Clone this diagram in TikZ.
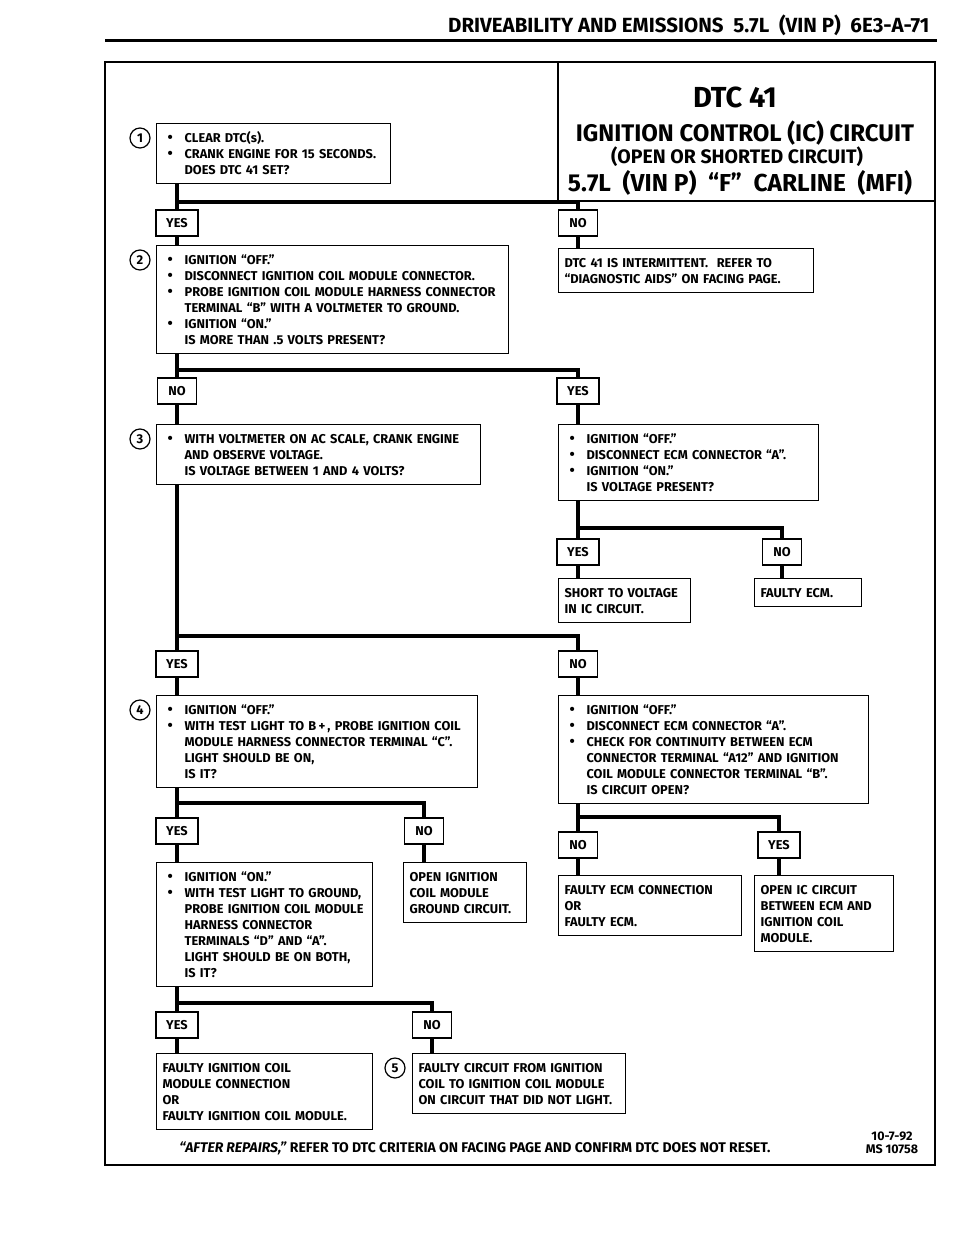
\documentclass[tikz,border=0pt]{standalone}
\usepackage{fontspec}
\setmainfont{Fira Sans}
\usetikzlibrary{calc,positioning}

\newcommand\dgb{\makebox[22pt][l]{\hspace{5pt}{\fontsize{15}{15}\selectfont\textbullet}}}
\newcommand\dgi{\hspace*{22pt}}
\newcommand\dgstrut{\rule[-2.8pt]{0pt}{16pt}}

\tikzset{
  dg frame/.style={draw=black, line width=2.4pt},
  dg rule/.style={draw=black, line width=3pt},
  dg box/.style={draw=black, line width=1.2pt, anchor=north west, align=left,
    inner xsep=6pt, inner ysep=6pt, font=\bfseries\fontsize{12.8}{16}\selectfont,
    execute at begin node=\dgstrut, execute at end node=\dgstrut},
  dg answer/.style={draw=black, line width=1.2pt, minimum height=26pt, minimum width=42pt,
    inner sep=0pt, font=\bfseries\fontsize{12.8}{14}\selectfont},
  dg answer no/.style={dg answer, minimum width=39pt},
  dg num/.style={circle, draw=black, line width=1.2pt, minimum size=20pt, inner sep=0pt,
    font=\bfseries\fontsize{12.8}{14}\selectfont},
  dg flow/.style={draw=black, line width=4pt},
  dg header/.style={font=\bfseries\fontsize{20.5}{22}\selectfont},
  dg title/.style={font=\bfseries\fontsize{#1}{#1}\selectfont},
  dg note/.style={font=\bfseries\fontsize{14}{15}\selectfont}
}

\begin{document}
\begin{tikzpicture}[x=1pt,y=-1pt]
  \useasboundingbox (0,0) rectangle (960,1250);
  % page head
  \node[dg header, anchor=base east] (head) at (933,32) {DRIVEABILITY AND EMISSIONS\ \ 5.7L\ \ (VIN P)\ \ 6E3-A-71};
  \draw[dg rule] (105,40) -- (937,40);

  % frame and title block
  \draw[dg frame] (105,62) rectangle (935,1165);
  \draw[dg frame] (558,62) |- (935,201);
  \node[dg title=29] (dtc) at (735,97) {DTC 41};
  \node[dg title=24] (ttl1) at (745,133) {IGNITION CONTROL (IC) CIRCUIT};
  \node[dg title=19.5] (ttl2) at (737,157) {(OPEN OR SHORTED CIRCUIT)};
  \node[dg title=24.5] (ttl3) at (740,183) {5.7L\ \ (VIN P)\ \ “F”\ \ CARLINE\ \ (MFI)};

  % step 1
  \node[dg box, text width=222pt] (q1) at (156,123) {\dgb CLEAR DTC(s).\\ \dgb CRANK ENGINE FOR 15 SECONDS.\\ \dgi DOES DTC 41 SET?};
  \node[dg num] (c1) at ($(q1.north west)+(-16,15)$) {1};
  \coordinate (j1) at (177,202);
  \node[dg answer] (yes1) at (177,223) {YES};
  \node[dg answer no] (no1) at (578,223) {NO};
  \draw[dg flow] (q1.south -| yes1) -- (yes1.north);
  \draw[dg flow] (j1) -| (no1.north);

  % step 2
  \node[dg box, text width=340pt] (q2) at (156,245) {\dgb IGNITION “OFF.”\\ \dgb DISCONNECT IGNITION COIL MODULE CONNECTOR.\\ \dgb PROBE IGNITION COIL MODULE HARNESS CONNECTOR\\ \dgi TERMINAL “B” WITH A VOLTMETER TO GROUND.\\ \dgb IGNITION “ON.”\\ \dgi IS MORE THAN .5 VOLTS PRESENT?};
  \node[dg num] (c2) at ($(q2.north west)+(-16,15)$) {2};
  \node[dg box, text width=243pt] (r2) at (558,248) {DTC 41 IS INTERMITTENT.\ \ REFER TO\\ “DIAGNOSTIC AIDS” ON FACING PAGE.};
  \draw[dg flow] (yes1.south) -- (yes1.south |- q2.north);
  \draw[dg flow] (no1.south) -- (no1.south |- r2.north);

  \coordinate (j2) at (177,370);
  \node[dg answer no] (no2) at (177,391) {NO};
  \node[dg answer] (yes2) at (578,391) {YES};
  \draw[dg flow] (q2.south -| no2) -- (no2.north);
  \draw[dg flow] (j2) -| (yes2.north);

  % step 3
  \node[dg box, text width=312pt] (q3) at (156,424) {\dgb WITH VOLTMETER ON AC SCALE, CRANK ENGINE\\ \dgi AND OBSERVE VOLTAGE.\\ \dgi IS VOLTAGE BETWEEN 1 AND 4 VOLTS?};
  \node[dg num] (c3) at ($(q3.north west)+(-16,15)$) {3};
  \node[dg box, text width=248pt] (r3) at (558,424) {\dgb IGNITION “OFF.”\\ \dgb DISCONNECT ECM CONNECTOR “A”.\\ \dgb IGNITION “ON.”\\ \dgi IS VOLTAGE PRESENT?};
  \draw[dg flow] (no2.south) -- (no2.south |- q3.north);
  \draw[dg flow] (yes2.south) -- (yes2.south |- r3.north);

  \coordinate (j3) at (578,528);
  \node[dg answer] (yes3) at (578,552) {YES};
  \node[dg answer no] (no3) at (782,552) {NO};
  \draw[dg flow] (r3.south -| yes3) -- (yes3.north);
  \draw[dg flow] (j3) -| (no3.north);
  \node[dg box, text width=120pt] (s3) at (558,578) {SHORT TO VOLTAGE\\ IN IC CIRCUIT.};
  \node[dg box, text width=95pt] (f3) at (754,578) {FAULTY ECM.};
  \draw[dg flow] (yes3.south) -- (yes3.south |- s3.north);
  \draw[dg flow] (no3.south) -- (no3.south |- f3.north);

  \coordinate (j4) at (177,636);
  \node[dg answer] (yes4) at (177,664) {YES};
  \node[dg answer no] (no4) at (578,664) {NO};
  \draw[dg flow] (q3.south -| yes4) -- (yes4.north);
  \draw[dg flow] (j4) -| (no4.north);

  % step 4
  \node[dg box, text width=309pt] (q4) at (156,695) {\dgb IGNITION “OFF.”\\ \dgb WITH TEST LIGHT TO B\,+\,, PROBE IGNITION COIL\\ \dgi MODULE HARNESS CONNECTOR TERMINAL “C”.\\ \dgi LIGHT SHOULD BE ON,\\ \dgi IS IT?};
  \node[dg num] (c4) at ($(q4.north west)+(-16,15)$) {4};
  \node[dg box, text width=298pt] (r4) at (558,695) {\dgb IGNITION “OFF.”\\ \dgb DISCONNECT ECM CONNECTOR “A”.\\ \dgb CHECK FOR CONTINUITY BETWEEN ECM\\ \dgi CONNECTOR TERMINAL “A12” AND IGNITION\\ \dgi COIL MODULE CONNECTOR TERMINAL “B”.\\ \dgi IS CIRCUIT OPEN?};
  \draw[dg flow] (yes4.south) -- (yes4.south |- q4.north);
  \draw[dg flow] (no4.south) -- (no4.south |- r4.north);

  \coordinate (j5) at (177,803);
  \node[dg answer] (yes5) at (177,831) {YES};
  \node[dg answer no] (no5) at (424,831) {NO};
  \draw[dg flow] (q4.south -| yes5) -- (yes5.north);
  \draw[dg flow] (j5) -| (no5.north);
  \node[dg box, text width=204pt] (q5) at (156,862) {\dgb IGNITION “ON.”\\ \dgb WITH TEST LIGHT TO GROUND,\\ \dgi PROBE IGNITION COIL MODULE\\ \dgi HARNESS CONNECTOR\\ \dgi TERMINALS “D” AND “A”.\\ \dgi LIGHT SHOULD BE ON BOTH,\\ \dgi IS IT?};
  \node[dg box, text width=111pt] (o5) at (403,862) {OPEN IGNITION\\ COIL MODULE\\ GROUND CIRCUIT.};
  \draw[dg flow] (yes5.south) -- (yes5.south |- q5.north);
  \draw[dg flow] (no5.south) -- (no5.south |- o5.north);

  \coordinate (j6) at (578,817);
  \node[dg answer no] (no6) at (578,845) {NO};
  \node[dg answer] (yes6) at (779,845) {YES};
  \draw[dg flow] (r4.south -| no6) -- (no6.north);
  \draw[dg flow] (j6) -| (yes6.north);
  \node[dg box, text width=171pt] (s6) at (558,875) {FAULTY ECM CONNECTION\\ OR\\ FAULTY ECM.};
  \node[dg box, text width=127pt] (t6) at (754,875) {OPEN IC CIRCUIT\\ BETWEEN ECM AND\\ IGNITION COIL\\ MODULE.};
  \draw[dg flow] (no6.south) -- (no6.south |- s6.north);
  \draw[dg flow] (yes6.south) -- (yes6.south |- t6.north);

  % step 5
  \coordinate (j7) at (177,1003);
  \node[dg answer] (yes7) at (177,1025) {YES};
  \node[dg answer no] (no7) at (432,1025) {NO};
  \draw[dg flow] (q5.south -| yes7) -- (yes7.north);
  \draw[dg flow] (j7) -| (no7.north);
  \node[dg box, text width=204pt] (f7) at (156,1053) {FAULTY IGNITION COIL\\ MODULE CONNECTION\\ OR\\ FAULTY IGNITION COIL MODULE.};
  \node[dg box, text width=201pt] (o7) at (412,1053) {FAULTY CIRCUIT FROM IGNITION\\ COIL TO IGNITION COIL MODULE\\ ON CIRCUIT THAT DID NOT LIGHT.};
  \node[dg num] (c5) at ($(o7.north west)+(-17,15)$) {5};
  \draw[dg flow] (yes7.south) -- (yes7.south |- f7.north);
  \draw[dg flow] (no7.south) -- (no7.south |- o7.north);

  % foot
  \node[dg note] (note) at (475,1148) {\textit{“AFTER REPAIRS,”} REFER TO DTC CRITERIA ON FACING PAGE AND CONFIRM DTC DOES NOT RESET.};
  \node[dg note, align=center, font=\bfseries\fontsize{12.5}{13}\selectfont] (ms) at (892,1143) {10-7-92\\ MS 10758};
\end{tikzpicture}
\end{document}
